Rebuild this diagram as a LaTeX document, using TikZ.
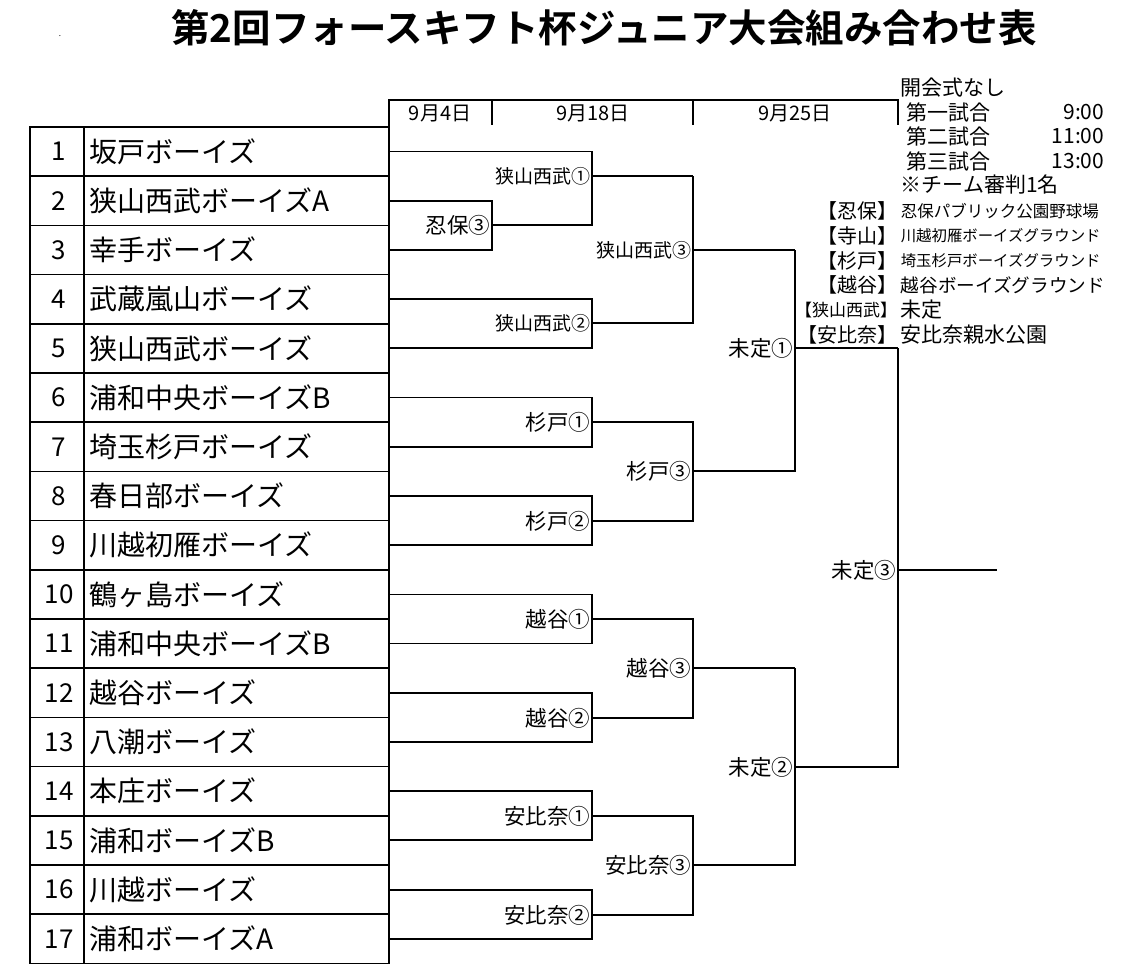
\documentclass[tikz,border=0pt]{standalone}
\usepackage{fontspec}
\setmainfont{Noto Sans CJK JP}
\newfontfamily\jpb{Noto Sans CJK JP Bold}
\begin{document}
\begin{tikzpicture}[x=1pt,y=-1pt,line width=1.6pt,
  lbl/.style={anchor=east,inner sep=1pt,font=\fontsize{19}{19}\selectfont},
  blbl/.style={anchor=east,inner sep=1pt,font=\fontsize{21.5}{21.5}\selectfont},
  team/.style={anchor=west,inner sep=0pt,font=\fontsize{28}{28}\selectfont},
  num/.style={inner sep=0pt,font=\fontsize{26}{26}\selectfont},
  info/.style={anchor=west,inner sep=0pt,font=\fontsize{21}{21}\selectfont},
  dt/.style={font=\fontsize{20}{20}\selectfont}]
\useasboundingbox (0,0) rectangle (1123,966);
\node[font=\jpb\fontsize{38.5}{38.5}\selectfont] (title) at (604,28) {第2回フォースキフト杯ジュニア大会組み合わせ表};
\node[font=\fontsize{8}{8}\selectfont] (dot) at (60,36) {.};
% table
\draw (30,127) rectangle (389,963.4);
\draw (84,127) -- (84,963.4);
\foreach \i in {1,...,16} \draw (30,{127+49.2*\i}) -- (389,{127+49.2*\i});
\foreach \n/\t [count=\i] in {1/坂戸ボーイズ,2/狭山西武ボーイズA,3/幸手ボーイズ,4/武蔵嵐山ボーイズ,5/狭山西武ボーイズ,6/浦和中央ボーイズB,7/埼玉杉戸ボーイズ,8/春日部ボーイズ,9/川越初雁ボーイズ,10/鶴ヶ島ボーイズ,11/浦和中央ボーイズB,12/越谷ボーイズ,13/八潮ボーイズ,14/本庄ボーイズ,15/浦和ボーイズB,16/川越ボーイズ,17/浦和ボーイズA}{
  \node[num] (n\i) at (59,{151.6+49.2*(\i-1)}) {\n};
  \node[team] (t\i) at (89,{151.6+49.2*(\i-1)}) {\t};
}
% header
\draw (389,127) -- (389,100) -- (898,100) -- (898,125);
\draw (492,100) -- (492,125);
\draw (693,100) -- (693,125);
\node[dt] (d1) at (440,113) {9月4日};
\node[dt] (d2) at (593,113) {9月18日};
\node[dt] (d3) at (795,113) {9月25日};
% bracket
\draw (389,200.8) -| (492,250) -- (389,250);
\node[blbl] (o3) at (492,225) {忍保③};
\draw (389,151.6) -| (592,225) -- (492,225);
\node[lbl] (s1) at (592,176) {狭山西武①};
\draw (592,176) -- (693,176);
\draw (389,299) -| (592,348) -- (389,348);
\node[lbl] (s2) at (592,323) {狭山西武②};
\draw (592,323) -- (693,323) -- (693,176);
\node[lbl] (s3) at (693,250) {狭山西武③};
\draw (693,250) -- (795,250);
\draw (389,397.6) -| (592,447) -- (389,447);
\node[blbl] (g1) at (592,422) {杉戸①};
\draw (389,496) -| (592,545) -- (389,545);
\node[blbl] (g2) at (592,521) {杉戸②};
\draw (592,422) -| (693,521) -- (592,521);
\node[blbl] (g3) at (693,471) {杉戸③};
\draw (693,471) -| (795,250);
\node[blbl] (m1) at (795,348) {未定①};
\draw (795,348) -- (898,348);
\draw (389,594.4) -| (592,643.6) -- (389,643.6);
\node[blbl] (k1) at (592,619) {越谷①};
\draw (389,693) -| (592,742) -- (389,742);
\node[blbl] (k2) at (592,718) {越谷②};
\draw (592,619) -| (693,718) -- (592,718);
\node[blbl] (k3) at (693,668) {越谷③};
\draw (693,668) -- (795,668);
\draw (389,791) -| (592,840) -- (389,840);
\node[blbl] (a1) at (592,816) {安比奈①};
\draw (389,890) -| (592,939) -- (389,939);
\node[blbl] (a2) at (592,915) {安比奈②};
\draw (592,816) -| (693,915) -- (592,915);
\node[blbl] (a3) at (693,865) {安比奈③};
\draw (693,865) -| (795,668);
\node[blbl] (m2) at (795,767) {未定②};
\draw (795,767) -- (898,767) -- (898,348);
\node[blbl] (m3) at (898,570) {未定③};
\draw (898,570) -- (997,570);
% info
\node[info] (i0) at (900,88) {開会式なし};
\node[info] (i1) at (906,112) {第一試合};
\node[info,anchor=east] (i1t) at (1105,112) {9:00};
\node[info] (i2) at (906,136) {第二試合};
\node[info,anchor=east] (i2t) at (1105,136) {11:00};
\node[info] (i3) at (906,161) {第三試合};
\node[info,anchor=east] (i3t) at (1105,161) {13:00};
\node[info] (i4) at (900,185) {※チーム審判1名};
\foreach \k/\v/\s/\ks/\y [count=\j] in {忍保/忍保パブリック公園野球場/16.5/20/211,寺山/川越初雁ボーイズグラウンド/15.4/20/236,杉戸/埼玉杉戸ボーイズグラウンド/15.4/20/261,越谷/越谷ボーイズグラウンド/18.6/20/285,狭山西武/未定/21/17/310,安比奈/安比奈親水公園/21/20/335}{
  \node[anchor=east,inner sep=0pt,font=\fontsize{\ks}{\ks}\selectfont] (vk\j) at (898,\y) {【\k】};
  \node[anchor=west,inner sep=0pt,font=\fontsize{\s}{\s}\selectfont] (vv\j) at (900,\y) {\v};
}
\end{tikzpicture}
\end{document}
